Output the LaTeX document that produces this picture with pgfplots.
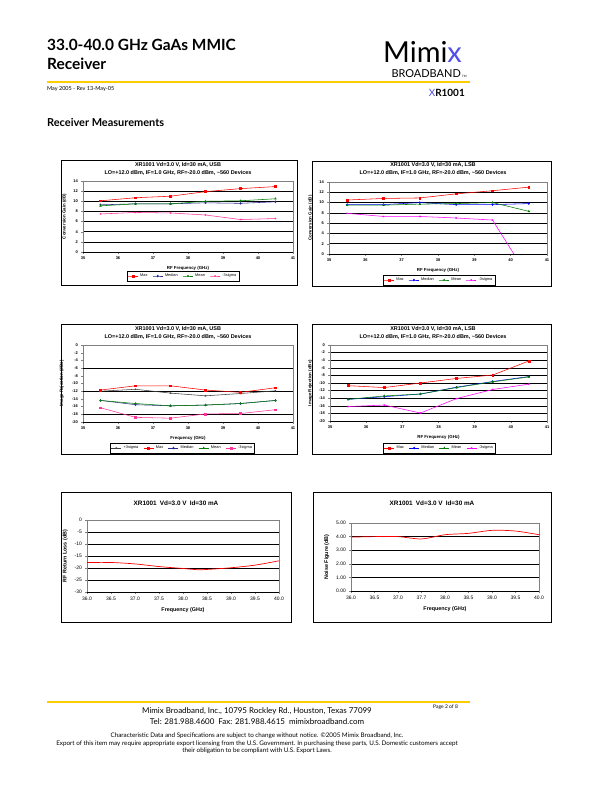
\documentclass[border=0pt]{standalone}
\usepackage{pgfplots}
\pgfplotsset{compat=1.18}
\usepackage{pgfplotstable}
\usepackage{fontspec}
\setmainfont{Lato}
\newfontfamily\chartfont{Liberation Sans}

\definecolor{mxgold}{RGB}{255,204,0}
\definecolor{mxblue}{RGB}{80,80,230}
\definecolor{axgray}{RGB}{128,128,128}
\definecolor{cmax}{RGB}{255,0,0}
\definecolor{cmedA}{RGB}{40,40,150}
\definecolor{cmedB}{RGB}{0,0,255}
\definecolor{cmean}{RGB}{0,128,0}
\definecolor{csigA}{RGB}{255,51,153}
\definecolor{csigB}{RGB}{255,0,255}

% conversion gain, USB
\pgfplotstableread{
f     max   med  mean  sig
35.5  10.1  9.3  9.1   7.5
36.5  10.7  9.5  9.5   7.8
37.5  11.0  9.5  9.5   7.7
38.5  11.9  9.7  10.0  7.3
39.5  12.5  9.6  10.1  6.4
40.5  12.9  9.9  10.5  6.6
}\cgusb
% conversion gain, LSB
\pgfplotstableread{
f     max   med   mean  sig
35.5  10.5  9.6   9.5   7.9
36.5  10.8  9.6   9.5   7.3
37.5  10.9  10.0  9.7   7.3
38.5  11.7  9.6   9.8   7.0
39.5  12.3  9.6   10.0  6.6
40.5  13.0  9.8   8.3  -4.6
}\cglsb
% image rejection, USB
\pgfplotstableread{
f     psig   max    med    mean   sig
35.5  -12.0  -11.7  -14.4  -14.4  -16.3
36.5  -11.5  -10.6  -15.5  -15.2  -18.8
37.5  -12.5  -10.6  -15.8  -15.8  -19.0
38.5  -13.2  -11.7  -15.6  -15.6  -17.9
39.5  -12.6  -12.3  -15.2  -15.2  -17.8
40.5  -11.9  -11.1  -14.4  -14.4  -16.8
}\irusb
% image rejection, LSB
\pgfplotstableread{
f     max    med    mean   sig
35.5  -10.7  -14.3  -14.3  -16.2
36.5  -11.2  -13.6  -13.4  -15.8
37.5  -10.0  -12.9  -12.9  -17.9
38.5  -8.8   -11.1  -11.2  -14.1
39.5  -7.9   -9.6   -9.7   -11.7
40.5  -4.2   -8.3   -8.4   -10.3
}\irlsb
% RF return loss
\pgfplotstableread{
f     rl
36.0  -17.7
36.5  -17.7
37.0  -18.3
37.5  -19.4
38.0  -20.2
38.3  -20.7
38.5  -20.6
39.0  -19.9
39.5  -18.8
40.0  -17.0
}\rloss
% noise figure
\pgfplotstableread{
f     nf
36.0  3.96
36.5  4.00
37.0  4.00
37.5  3.83
38.0  4.14
38.5  4.24
39.0  4.46
39.5  4.41
40.0  4.14
}\nfig

\newcommand\fsz[1]{\chartfont\fontsize{#1}{#1}\selectfont}

\pgfplotsset{
  mxbase/.style={
    scale only axis,
    axis line style={axgray, line width=0.4pt},
    every tick/.style={axgray, line width=0.4pt},
    tick align=outside, major tick length=1.6pt,
    tick pos=left,
    major grid style={black, line width=0.5pt},
    /pgf/number format/assume math mode=true,
    after end axis/.code={\draw[black, line width=0.5pt] (rel axis cs:0,0) -- (rel axis cs:1,0);},
  },
  mxsmall/.style={mxbase,
    tick label style={font=\fsz{4}\bfseries},
    label style={font=\fsz{4.4}\bfseries},
    xmin=35, xmax=41, xtick distance=1,
    legend style={draw=black, line width=0.4pt, font=\fsz{3.9}, legend columns=-1,
      inner sep=0.6pt, /tikz/every even column/.append style={column sep=3pt}},
    legend image code/.code={\draw[mark repeat=2, mark phase=2, #1] plot coordinates {(0pt,0pt) (5pt,0pt) (10pt,0pt)};},
    every axis plot/.append style={line width=0.55pt, mark size=0.9pt},
  },
  mxbig/.style={mxbase,
    tick label style={font=\fsz{5}},
    label style={font=\fsz{5.4}\bfseries},
    xmin=36, xmax=40, xtick distance=0.5,
    ymajorgrids,
    every axis plot/.append style={line width=0.7pt, no marks, smooth},
  },
}

\begin{document}
\begin{tikzpicture}
\path[use as bounding box, fill=white] (0,0) rectangle (612bp,-792bp);

% ---- page header
\node[anchor=base west, inner sep=0, font=\fontsize{15.5}{15.5}\selectfont\bfseries] at (47bp,-50bp) {33.0-40.0 GHz GaAs MMIC};
\node[anchor=base west, inner sep=0, font=\fontsize{15.5}{15.5}\selectfont\bfseries] at (47bp,-69bp) {Receiver};
\draw[mxgold, line width=2bp] (47bp,-82bp) -- (470bp,-82bp);
\node[anchor=base west, inner sep=0, font=\fontsize{5.5}{5.5}\selectfont] at (47bp,-90bp) {May 2005 - Rev 13-May-05};
\node[anchor=base west, inner sep=0, font=\fontsize{11}{11}\selectfont\bfseries] at (47bp,-126bp) {Receiver Measurements};
\node[anchor=base west, inner sep=0, font=\fontsize{29}{29}\selectfont] at (383bp,-62bp) {Mimi\textcolor{mxblue}{x}};
\node[anchor=base east, inner sep=0, font=\fontsize{11}{11}\selectfont] at (461bp,-77bp) {BROADBAND};
\node[anchor=base west, inner sep=0, font=\fontsize{3}{3}\selectfont] at (462bp,-77bp) {TM};
\node[anchor=base east, inner sep=0, font=\fontsize{10}{10}\selectfont\bfseries] at (465bp,-96bp) {\textcolor{mxblue}{\mdseries X}R1001};

% ---- footer
\draw[mxgold, line width=2bp] (47bp,-702bp) -- (470bp,-702bp);
\node[anchor=base, inner sep=0, font=\fontsize{8}{8}\selectfont] at (257bp,-713bp) {Mimix Broadband, Inc., 10795 Rockley Rd., Houston, Texas 77099};
\node[anchor=base, inner sep=0, font=\fontsize{8}{8}\selectfont] at (257bp,-724bp) {Tel: 281.988.4600\enspace Fax: 281.988.4615\enspace mimixbroadband.com};
\node[anchor=base west, inner sep=0, font=\fontsize{5}{5}\selectfont] at (433bp,-708bp) {Page 2 of 8};
\node[anchor=base, inner sep=0, font=\fontsize{6.3}{6.3}\selectfont] at (257bp,-737bp) {Characteristic Data and Specifications are subject to change without notice. \textcopyright 2005 Mimix Broadband, Inc.};
\node[anchor=base, inner sep=0, font=\fontsize{6.3}{6.3}\selectfont] at (257bp,-745bp) {Export of this item may require appropriate export licensing from the U.S. Government. In purchasing these parts, U.S. Domestic customers accept};
\node[anchor=base, inner sep=0, font=\fontsize{6.3}{6.3}\selectfont] at (257bp,-752bp) {their obligation to be compliant with U.S. Export Laws.};

% ---- chart frames
\draw[black, line width=0.5pt] (61bp,-160bp) rectangle (297bp,-285bp);
\draw[black, line width=0.5pt] (312bp,-161bp) rectangle (551bp,-286bp);
\draw[black, line width=0.5pt] (61bp,-324bp) rectangle (297bp,-454bp);
\draw[black, line width=0.5pt] (312bp,-324bp) rectangle (551bp,-454bp);
\draw[black, line width=0.5pt] (61bp,-492bp) rectangle (291bp,-622bp);
\draw[black, line width=0.5pt] (313bp,-492bp) rectangle (551bp,-622bp);

% ---- chart titles
\node[font=\fsz{5.5}\bfseries] at (178bp,-165bp) {XR1001 Vd=3.0 V, Id=30 mA, USB};
\node[font=\fsz{5.5}\bfseries] at (178bp,-173bp) {LO=+12.0 dBm, IF=1.0 GHz, RF=-20.0 dBm, \textasciitilde 560 Devices};
\node[font=\fsz{5.5}\bfseries] at (433bp,-165bp) {XR1001 Vd=3.0 V, Id=30 mA, LSB};
\node[font=\fsz{5.5}\bfseries] at (433bp,-173bp) {LO=+12.0 dBm, IF=1.0 GHz, RF=-20.0 dBm, \textasciitilde 560 Devices};
\node[font=\fsz{5.5}\bfseries] at (178bp,-329bp) {XR1001 Vd=3.0 V, Id=30 mA, USB};
\node[font=\fsz{5.5}\bfseries] at (178bp,-337bp) {LO=+12.0 dBm, IF=1.0 GHz, RF=-20.0 dBm, \textasciitilde 560 Devices};
\node[font=\fsz{5.5}\bfseries] at (433bp,-329bp) {XR1001 Vd=3.0 V, Id=30 mA, LSB};
\node[font=\fsz{5.5}\bfseries] at (433bp,-337bp) {LO=+12.0 dBm, IF=1.0 GHz, RF=-20.0 dBm, \textasciitilde 560 Devices};
\node[font=\fsz{6.4}\bfseries] at (176bp,-503bp) {XR1001\enspace Vd=3.0 V\enspace Id=30 mA};
\node[font=\fsz{6.4}\bfseries] at (432bp,-503bp) {XR1001\enspace Vd=3.0 V\enspace Id=30 mA};

% ---- conversion gain, USB
\begin{axis}[mxsmall, at={(83bp,-252bp)}, anchor=south west, width=210bp, height=71bp,
  ymin=0, ymax=14, ytick distance=2, ymajorgrids,
  xlabel={RF Frequency (GHz)}, ylabel={Conversion Gain (dB)},
  legend style={at={(0.476,-0.338)}, anchor=center}]
\addplot[cmax, mark=square*] table[y=max]{\cgusb};
\addplot[cmedA, mark=diamond*] table[y=med]{\cgusb};
\addplot[cmean, mark=triangle*] table[y=mean]{\cgusb};
\addplot[csigA, mark=x] table[y=sig]{\cgusb};
\legend{Max, Median, Mean, -3sigma}
\end{axis}

% ---- conversion gain, LSB
\begin{axis}[mxsmall, at={(329bp,-254bp)}, anchor=south west, width=218bp, height=72bp,
  ymin=0, ymax=14, ytick distance=2, ymajorgrids,
  xlabel={RF Frequency (GHz)}, ylabel={Conversion Gain (dB)},
  legend style={at={(0.505,-0.361)}, anchor=center}]
\addplot[cmax, mark=square*] table[y=max]{\cglsb};
\addplot[cmedB, mark=diamond*] table[y=med]{\cglsb};
\addplot[cmean, mark=triangle*] table[y=mean]{\cglsb};
\addplot[csigB, mark=x] table[y=sig]{\cglsb};
\legend{Max, Median, Mean, -3sigma}
\end{axis}

% ---- image rejection, USB
\begin{axis}[mxsmall, at={(83bp,-422bp)}, anchor=south west, width=210bp, height=77bp,
  ymin=-20, ymax=0, ytick distance=2,
  extra y ticks={-6,-12,-18}, extra y tick labels={},
  extra y tick style={grid=major, major tick length=0pt},
  xlabel={Frequency (GHz)}, ylabel={Image Rejection (dBc)},
  legend style={at={(0.474,-0.338)}, anchor=center}]
\addplot[black!75, mark=x] table[y=psig]{\irusb};
\addplot[cmax, mark=square*] table[y=max]{\irusb};
\addplot[cmedA, mark=diamond*] table[y=med]{\irusb};
\addplot[cmean, mark=triangle*] table[y=mean]{\irusb};
\addplot[csigA, mark=square*] table[y=sig]{\irusb};
\legend{+3sigma, Max, Median, Mean, -3sigma}
\end{axis}

% ---- image rejection, LSB
\begin{axis}[mxsmall, at={(330bp,-421bp)}, anchor=south west, width=217bp, height=76bp,
  ymin=-20, ymax=0, ytick distance=2, ymajorgrids,
  xlabel={RF Frequency (GHz)}, ylabel={Image Rejection (dBc)},
  legend style={at={(0.504,-0.355)}, anchor=center}]
\addplot[cmax, mark=square*] table[y=max]{\irlsb};
\addplot[cmedB, mark=diamond*] table[y=med]{\irlsb};
\addplot[cmean, mark=triangle*] table[y=mean]{\irlsb};
\addplot[csigB, mark=x] table[y=sig]{\irlsb};
\legend{Max, Median, Mean, -3sigma}
\end{axis}

% ---- RF return loss
\begin{axis}[mxbig, at={(87bp,-592bp)}, anchor=south west, width=192bp, height=72bp,
  ymin=-30, ymax=0, ytick distance=5,
  xticklabel style={/pgf/number format/.cd, fixed, fixed zerofill, precision=1},
  xlabel={Frequency (GHz)}, ylabel={RF Return Loss (dB)}]
\addplot[cmax] table[y=rl]{\rloss};
\end{axis}

% ---- noise figure
\begin{axis}[mxbig, at={(351bp,-591bp)}, anchor=south west, width=188bp, height=68bp,
  ymin=0, ymax=5, ytick distance=1,
  yticklabel style={/pgf/number format/.cd, fixed, fixed zerofill, precision=2},
  xtick={36,36.5,...,40},
  xticklabels={36.0,36.5,37.0,37.7,38.0,38.5,39.0,39.5,40.0},
  xlabel={Frequency (GHz)}, ylabel={Noise Figure (dB)}]
\addplot[cmax] table[y=nf]{\nfig};
\end{axis}
\end{tikzpicture}
\end{document}
